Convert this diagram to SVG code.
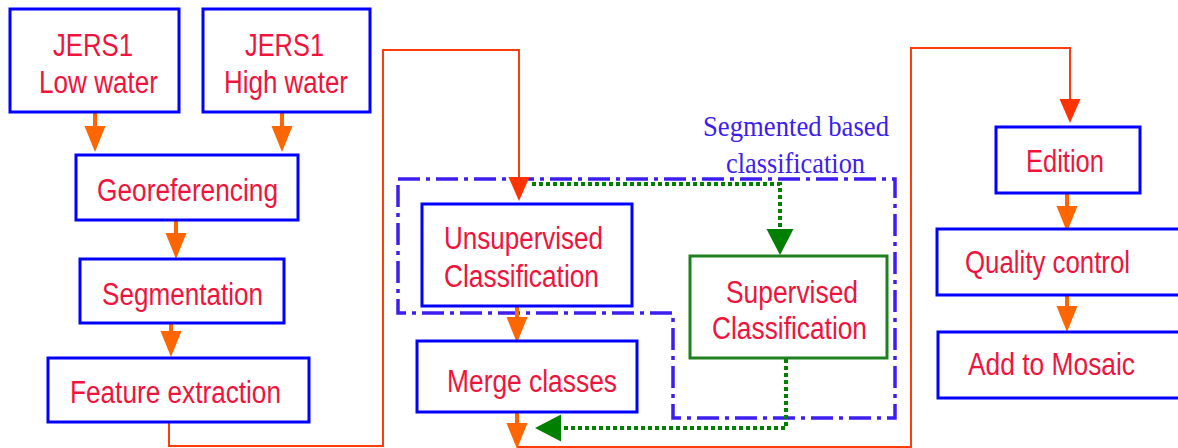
<svg xmlns="http://www.w3.org/2000/svg" width="1178" height="448" viewBox="0 0 1178 448">
<defs>
<style>
.box{fill:#fff;stroke:#0000FF;stroke-width:3}
.gbox{fill:#fff;stroke:#1E801E;stroke-width:3}
.t{font-family:"Liberation Sans",Arial,sans-serif;font-size:31px;fill:#F0143C}
.st{font-family:"Liberation Serif","Times New Roman",serif;font-size:30px;fill:#3C1EF0}
.oa{fill:none;stroke:#FF6600;stroke-width:4}
.ra{fill:none;stroke:#FF3D0A;stroke-width:2}
.ga{fill:none;stroke:#007F00;stroke-width:4;stroke-dasharray:4 3}
.dd{fill:none;stroke:#3C1EF0;stroke-width:3.5;stroke-dasharray:22 6 4 6}
</style>
<marker id="mo" markerUnits="userSpaceOnUse" markerWidth="26" markerHeight="21" refX="0" refY="10.5" orient="auto" overflow="visible">
<path d="M0,0 L26,10.5 L0,21 Z" fill="#FF6600"/>
</marker>
<marker id="mr" markerUnits="userSpaceOnUse" markerWidth="24" markerHeight="21" refX="0" refY="10.5" orient="auto" overflow="visible">
<path d="M0,0 L24,10.5 L0,21 Z" fill="#FF3300"/>
</marker>
<marker id="mg" markerUnits="userSpaceOnUse" markerWidth="26" markerHeight="27" refX="0" refY="13.5" orient="auto" overflow="visible">
<path d="M0,0 L26,13.5 L0,27 Z" fill="#007F00"/>
</marker>
</defs>
<rect width="1178" height="448" fill="#fff"/>

<g id="region">
<path class="dd" d="M398,179 H895 V418 H673 V313 H398 Z"/>
<text class="st" x="703" y="136" textLength="186" lengthAdjust="spacingAndGlyphs">Segmented based</text>
<text class="st" x="726" y="173" textLength="139" lengthAdjust="spacingAndGlyphs">classification</text>
</g>

<g id="connectors">
<path class="ra" d="M169,422 V446 H383 V50 H519 V177" marker-end="url(#mr)"/>
<path class="ra" d="M517,447 H911 V48 H1070 V99" marker-end="url(#mr)"/>
<path class="oa" d="M95,113 V126" marker-end="url(#mo)"/>
<path class="oa" d="M282,113 V126" marker-end="url(#mo)"/>
<path class="oa" d="M176,221 V233" marker-end="url(#mo)"/>
<path class="oa" d="M171,324 V331" marker-end="url(#mo)"/>
<path class="oa" d="M517,307 V317" marker-end="url(#mo)"/>
<path class="oa" d="M517,413 V423" marker-end="url(#mo)"/>
<path class="oa" d="M1067,194 V206" marker-end="url(#mo)"/>
<path class="oa" d="M1067,296 V306" marker-end="url(#mo)"/>
<path class="ga" d="M532,184 H780 V229" marker-end="url(#mg)"/>
<path class="ga" d="M786,359 V428 H561" marker-end="url(#mg)"/>
</g>

<g id="n1">
<rect class="box" x="10" y="9" width="169" height="103"/>
<text class="t" x="53" y="56" textLength="80" lengthAdjust="spacingAndGlyphs">JERS1</text>
<text class="t" x="39" y="93" textLength="119" lengthAdjust="spacingAndGlyphs">Low water</text>
</g>
<g id="n2">
<rect class="box" x="203" y="9" width="167" height="103"/>
<text class="t" x="245" y="56" textLength="79" lengthAdjust="spacingAndGlyphs">JERS1</text>
<text class="t" x="224" y="93" textLength="124" lengthAdjust="spacingAndGlyphs">High water</text>
</g>
<g id="n3">
<rect class="box" x="76" y="155" width="222" height="65"/>
<text class="t" x="97" y="201" textLength="181" lengthAdjust="spacingAndGlyphs">Georeferencing</text>
</g>
<g id="n4">
<rect class="box" x="80" y="259" width="204" height="64"/>
<text class="t" x="102" y="305" textLength="161" lengthAdjust="spacingAndGlyphs">Segmentation</text>
</g>
<g id="n5">
<rect class="box" x="48" y="358" width="261" height="64"/>
<text class="t" x="70" y="403" textLength="211" lengthAdjust="spacingAndGlyphs">Feature extraction</text>
</g>
<g id="n6">
<rect class="box" x="422" y="204" width="210" height="102"/>
<text class="t" x="444" y="249" textLength="159" lengthAdjust="spacingAndGlyphs">Unsupervised</text>
<text class="t" x="444" y="287" textLength="155" lengthAdjust="spacingAndGlyphs">Classification</text>
</g>
<g id="n7">
<rect class="box" x="417" y="341" width="220" height="71"/>
<text class="t" x="447" y="392" textLength="170" lengthAdjust="spacingAndGlyphs">Merge classes</text>
</g>
<g id="n8">
<rect class="gbox" x="690" y="256" width="197" height="102"/>
<text class="t" x="726" y="303" textLength="132" lengthAdjust="spacingAndGlyphs">Supervised</text>
<text class="t" x="712" y="339" textLength="155" lengthAdjust="spacingAndGlyphs">Classification</text>
</g>
<g id="n9">
<rect class="box" x="996" y="127" width="144" height="66"/>
<text class="t" x="1026" y="172" textLength="78" lengthAdjust="spacingAndGlyphs">Edition</text>
</g>
<g id="n10">
<rect class="box" x="937" y="229" width="260" height="66"/>
<text class="t" x="965" y="273" textLength="165" lengthAdjust="spacingAndGlyphs">Quality control</text>
</g>
<g id="n11">
<rect class="box" x="938" y="332" width="260" height="66"/>
<text class="t" x="968" y="375" textLength="167" lengthAdjust="spacingAndGlyphs">Add to Mosaic</text>
</g>
</svg>
